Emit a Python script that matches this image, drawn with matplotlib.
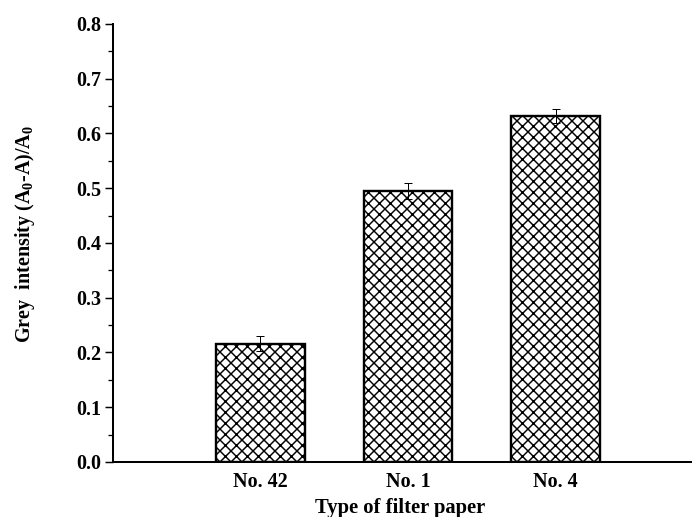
import matplotlib
matplotlib.use("Agg")
import matplotlib.pyplot as plt
from matplotlib.ticker import MultipleLocator

# data
papers = ['No. 42', 'No. 1', 'No. 4']
grey_intensity = [0.216, 0.495, 0.632]
errors = [0.014, 0.015, 0.013]

plt.rcParams['font.family'] = ['Liberation Serif', 'DejaVu Serif']
plt.rcParams['font.weight'] = 'bold'
plt.rcParams['mathtext.fontset'] = 'custom'
plt.rcParams['mathtext.rm'] = 'Liberation Serif:bold'
plt.rcParams['mathtext.it'] = 'Liberation Serif:bold'
plt.rcParams['mathtext.bf'] = 'Liberation Serif:bold'
plt.rcParams['hatch.linewidth'] = 1.6

# dpi 66 makes the 'xx' hatch period about 11 px, as in the reference
DPI = 66
fig = plt.figure(figsize=(692 / DPI, 517 / DPI), dpi=DPI)
ax = fig.add_axes([0.163, 0.1064, 1.016 - 0.163, 0.9536 - 0.1064])

x = range(1, len(papers) + 1)
ax.bar(x, grey_intensity, width=0.6, color='white', edgecolor='black',
       linewidth=2.6, hatch='xx', zorder=2)
ax.errorbar(x, grey_intensity, yerr=errors, fmt='none', ecolor='black',
            elinewidth=1.1, capsize=4.3, capthick=1.1, zorder=3)

ax.set_xlim(0, 4)
ax.set_ylim(0, 0.8)
ax.set_xticks(list(x))
ax.set_xticklabels(papers)
ax.yaxis.set_major_locator(MultipleLocator(0.1))
ax.yaxis.set_minor_locator(MultipleLocator(0.05))
ax.yaxis.set_major_formatter(plt.FormatStrFormatter('%.1f'))

for side in ['top', 'right']:
    ax.spines[side].set_visible(False)
for side in ['left', 'bottom']:
    ax.spines[side].set_linewidth(2.2)

ax.tick_params(axis='y', which='major', direction='out', length=9, width=1.6,
               labelsize=22, pad=4)
ax.tick_params(axis='y', which='minor', direction='out', length=5, width=1.4)
ax.tick_params(axis='x', which='both', length=0, labelsize=22, pad=11)

ax.set_ylabel('Grey  intensity (A$_0$-A)/A$_0$', fontsize=22, fontweight='bold')
ax.set_xlabel('Type of filter paper', fontsize=22.5, fontweight='bold')
ax.yaxis.set_label_coords(-0.129, 0.52)
ax.xaxis.set_label_coords(0.486, -0.082)

fig.savefig('out.png', dpi=DPI)
